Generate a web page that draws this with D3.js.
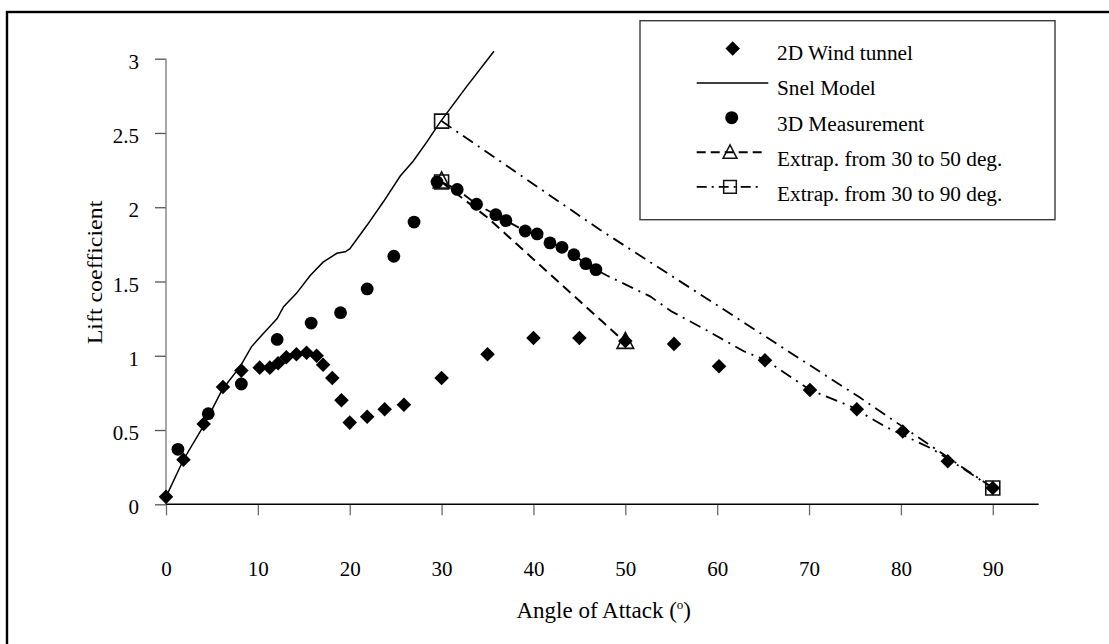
<!DOCTYPE html>
<html>
<head>
<meta charset="utf-8">
<script src="https://cdn.jsdelivr.net/npm/d3@7"></script>
<style>
  body { margin: 0; background: #fff; }
  svg { display: block; }
  text { font-family: "Liberation Serif", "Times New Roman", serif; fill: #000; }
</style>
</head>
<body>
<svg id="chart" width="1109" height="644"></svg>
<script>
// ===== data =====
const alpha2D = [0, 1.9, 4.1, 6.2, 8.2, 10.2, 11.3, 12.2, 13.1, 14.2, 15.3, 16.4, 17.1, 18.1, 19.1, 20.0,
  21.9, 23.8, 25.9, 30, 35, 40, 45, 50, 55.3, 60.2, 65.2, 70.1, 75.2, 80.2, 85.1, 90]
const cl2D = [0.05, 0.30, 0.54, 0.79, 0.90, 0.92, 0.92, 0.95, 0.99, 1.01, 1.02, 1.00, 0.94, 0.85, 0.70, 0.55,
  0.59, 0.64, 0.67, 0.85, 1.01, 1.12, 1.12, 1.10, 1.08, 0.93, 0.97, 0.77, 0.64, 0.49, 0.29, 0.11]

const alphaSnel = [0, 1.9, 4.2, 6.1, 8.1, 9.3, 10.3, 11.2, 12.1, 12.8, 14.2, 15.7, 17.1, 18.6, 19.5, 20.0,
  21.9, 23.7, 25.5, 26.9, 28.4, 29.8, 32.7, 35.7]
const clSnel = [0.05, 0.30, 0.54, 0.77, 0.93, 1.06, 1.13, 1.19, 1.25, 1.33, 1.42, 1.54, 1.63, 1.69, 1.70, 1.72,
  1.88, 2.04, 2.21, 2.31, 2.44, 2.57, 2.81, 3.05]

const alpha3D = [1.3, 4.6, 8.2, 12.1, 15.8, 19.0, 21.9, 24.8, 27.0, 29.5, 31.7, 33.8, 35.9, 37.0, 39.1,
  40.4, 41.8, 43.1, 44.4, 45.7, 46.8]
const cl3D = [0.37, 0.61, 0.81, 1.11, 1.22, 1.29, 1.45, 1.67, 1.90, 2.17, 2.12, 2.02, 1.95, 1.91, 1.84,
  1.82, 1.76, 1.73, 1.68, 1.62, 1.58]

// extrapolation 30 -> 50 deg (dashed, triangles at the ends)
const alphaExt50 = [30, 32.5, 35, 37.5, 40, 42.5, 45, 47.5, 50]
const clExt50 = [2.17, 2.05, 1.93, 1.79, 1.65, 1.51, 1.37, 1.23, 1.09]
const ext50Marks = [[30, 2.17], [50, 1.09]]

// extrapolation 30 -> 90 deg (dash-dot, squares), from Snel value and from 3D value
const alphaExt90a = [30, 47.2, 60, 75.5, 90]
const clExt90a = [2.58, 1.85, 1.34, 0.72, 0.11]
const alphaExt90b = [30, 31.7, 33.8, 35.9, 37.0, 39.1, 40.4, 41.8, 43.1, 44.4, 45.7, 46.8, 48.0, 52.7,
  55.0, 58.9, 62.9, 65.3, 70.1, 74.5, 78.4, 83.5, 90]
const clExt90b = [2.17, 2.12, 2.02, 1.95, 1.91, 1.84, 1.82, 1.76, 1.73, 1.68, 1.62, 1.58, 1.54, 1.40,
  1.30, 1.17, 1.03, 0.97, 0.77, 0.66, 0.52, 0.37, 0.11]
const ext90Marks = [[30, 2.58], [30, 2.17], [90, 0.11]]

const xTicks = [0, 10, 20, 30, 40, 50, 60, 70, 80, 90]
const yTicks = [0, 0.5, 1, 1.5, 2, 2.5, 3]
const legendLabels = ["2D Wind tunnel", "Snel Model", "3D Measurement",
  "Extrap. from 30 to 50 deg.", "Extrap. from 30 to 90 deg."]

const zip = (a, b) => a.map((d, i) => [d, b[i]])

// ===== scales =====
const svg = d3.select("#chart")
const x = d3.scaleLinear().domain([0, 95]).range([166, 1038.7])
const y = d3.scaleLinear().domain([0, 3]).range([504.3, 58.7])

// marker shapes (Excel style)
const diamondType = {
  draw(ctx, size) {
    const r = Math.sqrt(size / 2)
    ctx.moveTo(0, -r); ctx.lineTo(r, 0); ctx.lineTo(0, r); ctx.lineTo(-r, 0); ctx.closePath()
  }
}
const triangleType = {
  draw(ctx, size) {
    const s = Math.sqrt(size) / 16
    ctx.moveTo(0, -10 * s); ctx.lineTo(8.3 * s, 6 * s); ctx.lineTo(-8.3 * s, 6 * s); ctx.closePath()
  }
}
const diamond = d3.symbol(diamondType, 106)
const triangle = d3.symbol(triangleType, 256)
const square = d3.symbol(d3.symbolSquare, 196)

// outer frame
svg.append("rect")
  .attr("x", 7).attr("y", 12).attr("width", 1200).attr("height", 700)
  .attr("fill", "none").attr("stroke", "#000").attr("stroke-width", 2.4)

// ===== axes =====
const xAxis = svg.append("g")
  .attr("transform", `translate(0,${y(0)})`)
  .call(d3.axisBottom(x).tickValues(xTicks).tickSize(11).tickFormat(d3.format("d")))
xAxis.select(".domain").remove()
xAxis.selectAll(".tick line").attr("stroke", "#6a6a6a").attr("stroke-width", 1.3)
xAxis.selectAll(".tick text").attr("y", 72).attr("dy", null)
  .style("font-size", "21px")
svg.append("line")
  .attr("x1", x(0)).attr("x2", x(95)).attr("y1", y(0)).attr("y2", y(0))
  .attr("stroke", "#000").attr("stroke-width", 1.4)

const yAxis = svg.append("g")
  .attr("transform", `translate(${x(0)},0)`)
  .call(d3.axisLeft(y).tickValues(yTicks).tickSize(11).tickFormat(d => d))
yAxis.select(".domain").remove()
yAxis.selectAll(".tick line").attr("stroke", "#555").attr("stroke-width", 1.3)
yAxis.selectAll(".tick text").attr("x", -27).attr("dy", "0.46em")
  .style("font-size", "21px")
svg.append("line")
  .attr("x1", x(0)).attr("x2", x(0)).attr("y1", y(0)).attr("y2", y(3))
  .attr("stroke", "#808080").attr("stroke-width", 1.4)

// axis titles
svg.append("text")
  .attr("transform", "translate(102,272.5) rotate(-90) scale(1.14,1)")
  .attr("text-anchor", "middle")
  .style("font-size", "21px")
  .text("Lift coefficient")

const xTitle = svg.append("text")
  .attr("x", 516.5).attr("y", 618)
  .style("font-size", "23px")
xTitle.append("tspan").text("Angle of Attack (")
xTitle.append("tspan").attr("dy", -9).style("font-size", "13px").text("o")
xTitle.append("tspan").attr("dy", 9).text(")")

// ===== series =====
const line = d3.line().x(d => x(d[0])).y(d => y(d[1]))

svg.append("path").datum(zip(alphaSnel, clSnel))
  .attr("d", line).attr("fill", "none").attr("stroke", "#000").attr("stroke-width", 1.5)

svg.append("path").datum(zip(alphaExt50, clExt50))
  .attr("d", line).attr("fill", "none").attr("stroke", "#000").attr("stroke-width", 2)
  .attr("stroke-dasharray", "10,6")

svg.append("path").datum(zip(alphaExt90a, clExt90a))
  .attr("d", line).attr("fill", "none").attr("stroke", "#000").attr("stroke-width", 1.8)
  .attr("stroke-dasharray", "12,6,2,6")

svg.append("path").datum(zip(alphaExt90b, clExt90b))
  .attr("d", line).attr("fill", "none").attr("stroke", "#000").attr("stroke-width", 1.8)
  .attr("stroke-dasharray", "12,6,2,6")

svg.append("g").selectAll("path").data(ext50Marks).join("path")
  .attr("transform", d => `translate(${x(d[0])},${y(d[1])})`)
  .attr("d", triangle).attr("fill", "none").attr("stroke", "#111").attr("stroke-width", 1.6)

svg.append("g").selectAll("path").data(ext90Marks).join("path")
  .attr("transform", d => `translate(${x(d[0])},${y(d[1])})`)
  .attr("d", square).attr("fill", "none").attr("stroke", "#111").attr("stroke-width", 1.6)

svg.append("g").selectAll("path").data(zip(alpha2D, cl2D)).join("path")
  .attr("transform", d => `translate(${x(d[0])},${y(d[1])})`)
  .attr("d", diamond).attr("fill", "#000")

svg.append("g").selectAll("circle").data(zip(alpha3D, cl3D)).join("circle")
  .attr("cx", d => x(d[0])).attr("cy", d => y(d[1])).attr("r", 6.4).attr("fill", "#000")

// ===== legend =====
const legend = svg.append("g")
legend.append("rect")
  .attr("x", 640).attr("y", 20.7).attr("width", 415).attr("height", 199)
  .attr("fill", "#fff").attr("stroke", "#3a3a3a").attr("stroke-width", 1.4)

legend.selectAll("text").data(legendLabels).join("text")
  .attr("x", 777).attr("y", (d, i) => 60 + i * 35.3)
  .style("font-size", "21.3px")
  .text(d => d)

const symY = i => 48.5 + i * 34.6
legend.append("path").attr("transform", `translate(732.7,${symY(0)})`)
  .attr("d", diamond).attr("fill", "#000")
legend.append("line").attr("x1", 696.7).attr("x2", 768.3).attr("y1", symY(1)).attr("y2", symY(1))
  .attr("stroke", "#000").attr("stroke-width", 1.5)
legend.append("circle").attr("cx", 731.7).attr("cy", symY(2)).attr("r", 6.5).attr("fill", "#000")
legend.append("line").attr("x1", 696.7).attr("x2", 762).attr("y1", symY(3)).attr("y2", symY(3))
  .attr("stroke", "#000").attr("stroke-width", 2).attr("stroke-dasharray", "9,5")
legend.append("path").attr("transform", `translate(730,${symY(3) + 1})`)
  .attr("d", d3.symbol(triangleType, 180)).attr("fill", "none").attr("stroke", "#111").attr("stroke-width", 1.5)
legend.append("line").attr("x1", 696.7).attr("x2", 762).attr("y1", symY(4)).attr("y2", symY(4))
  .attr("stroke", "#000").attr("stroke-width", 1.8).attr("stroke-dasharray", "10,5,2,5")
legend.append("path").attr("transform", `translate(730,${symY(4)})`)
  .attr("d", d3.symbol(d3.symbolSquare, 160)).attr("fill", "none").attr("stroke", "#111").attr("stroke-width", 1.5)
</script>
</body>
</html>
